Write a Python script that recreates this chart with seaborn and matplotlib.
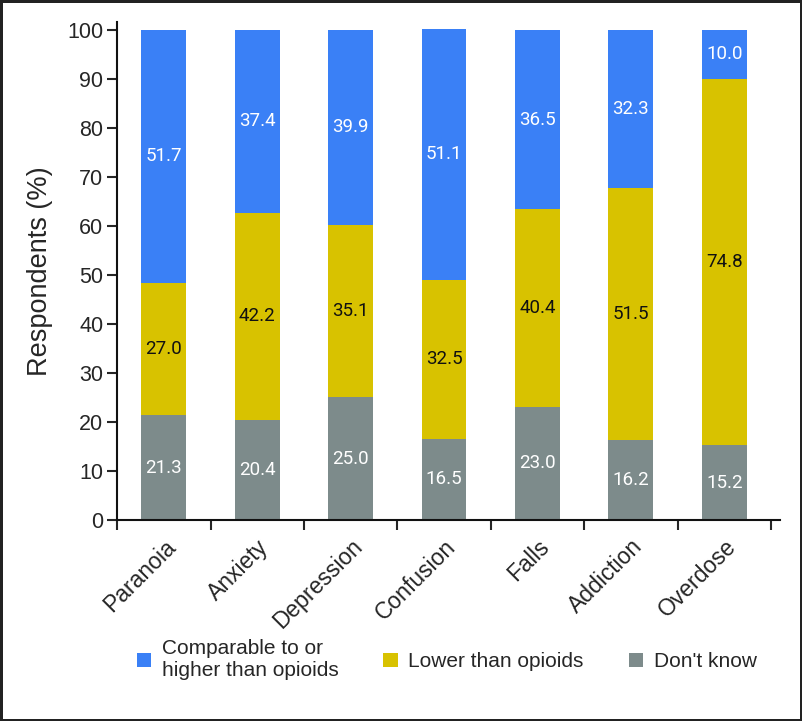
import numpy as np
import pandas as pd
import seaborn as sns
import matplotlib.pyplot as plt
from matplotlib.patches import Patch

# Data
categories = ['Paranoia', 'Anxiety', 'Depression', 'Confusion', 'Falls', 'Addiction', 'Overdose']
dont_know = [21.3, 20.4, 25.0, 16.5, 23.0, 16.2, 15.2]
lower = [27.0, 42.2, 35.1, 32.5, 40.4, 51.5, 74.8]
comparable = [51.7, 37.4, 39.9, 51.1, 36.5, 32.3, 10.0]
series_names = ['Comparable to or\nhigher than opioids', 'Lower than opioids', "Don't know"]

c_blue = '#3a80f6'
c_yellow = '#d8c200'
c_gray = '#7d8b8b'

df = pd.DataFrame({'category': categories, 'dont_know': dont_know,
                   'lower': lower, 'comparable': comparable})
df['top_gray'] = df['dont_know']
df['top_yellow'] = df['dont_know'] + df['lower']
df['top_blue'] = df['top_yellow'] + df['comparable']

sns.set_style('white')
plt.rcParams['font.family'] = ['Liberation Sans', 'DejaVu Sans']

fig = plt.figure(figsize=(8.02, 7.21), dpi=100, edgecolor='#222222', linewidth=2.5)
ax = fig.add_axes([0.146, 0.279, 0.827, 0.690])

# Stacked bars drawn as layered cumulative totals
for col, color in [('top_blue', c_blue), ('top_yellow', c_yellow), ('top_gray', c_gray)]:
    sns.barplot(data=df, x='category', y=col, color=color, width=0.48,
                saturation=1, ax=ax, order=categories, linewidth=0)

# Segment labels
lab = dict(ha='center', va='center', fontsize=13.5, family='Roboto')
for i in range(len(categories)):
    ax.text(i, df['dont_know'][i] / 2, f"{df['dont_know'][i]:.1f}", color='white', **lab)
    ax.text(i, df['dont_know'][i] + df['lower'][i] / 2, f"{df['lower'][i]:.1f}",
            color='#111111', **lab)
    ax.text(i, df['top_yellow'][i] + df['comparable'][i] / 2, f"{df['comparable'][i]:.1f}",
            color='white', **lab)

ax.set_xlim(-0.5, len(categories) - 0.4)
ax.set_ylim(0, 101.5)
ax.set_yticks(range(0, 101, 10))
ax.tick_params(axis='y', labelsize=15.5, length=7, width=1.5, direction='out', left=True, pad=3)
ax.set_xticks(range(len(categories)))
ax.set_xticklabels(categories, rotation=45, ha='right', rotation_mode='anchor', fontsize=16.5)
ax.tick_params(axis='x', length=0, pad=11)
ax.set_xticks(np.arange(-0.5, len(categories), 1.0), minor=True)
ax.tick_params(axis='x', which='minor', length=7, width=1.5, bottom=True, direction='out')
ax.set_xlabel('')
ax.set_ylabel('Respondents (%)', fontsize=19.5, labelpad=10)

for side in ['top', 'right']:
    ax.spines[side].set_visible(False)
for side in ['left', 'bottom']:
    ax.spines[side].set_color('#111111')
    ax.spines[side].set_linewidth(1.5)

handles = [Patch(facecolor=c, edgecolor='none') for c in [c_blue, c_yellow, c_gray]]
fig.legend(handles, series_names, loc='center', bbox_to_anchor=(0.557, 0.085), ncol=3,
           frameon=False, fontsize=15, handlelength=0.7, handleheight=0.7,
           columnspacing=2.15, handletextpad=0.5)

plt.savefig('out.png', dpi=100, edgecolor=fig.get_edgecolor())
